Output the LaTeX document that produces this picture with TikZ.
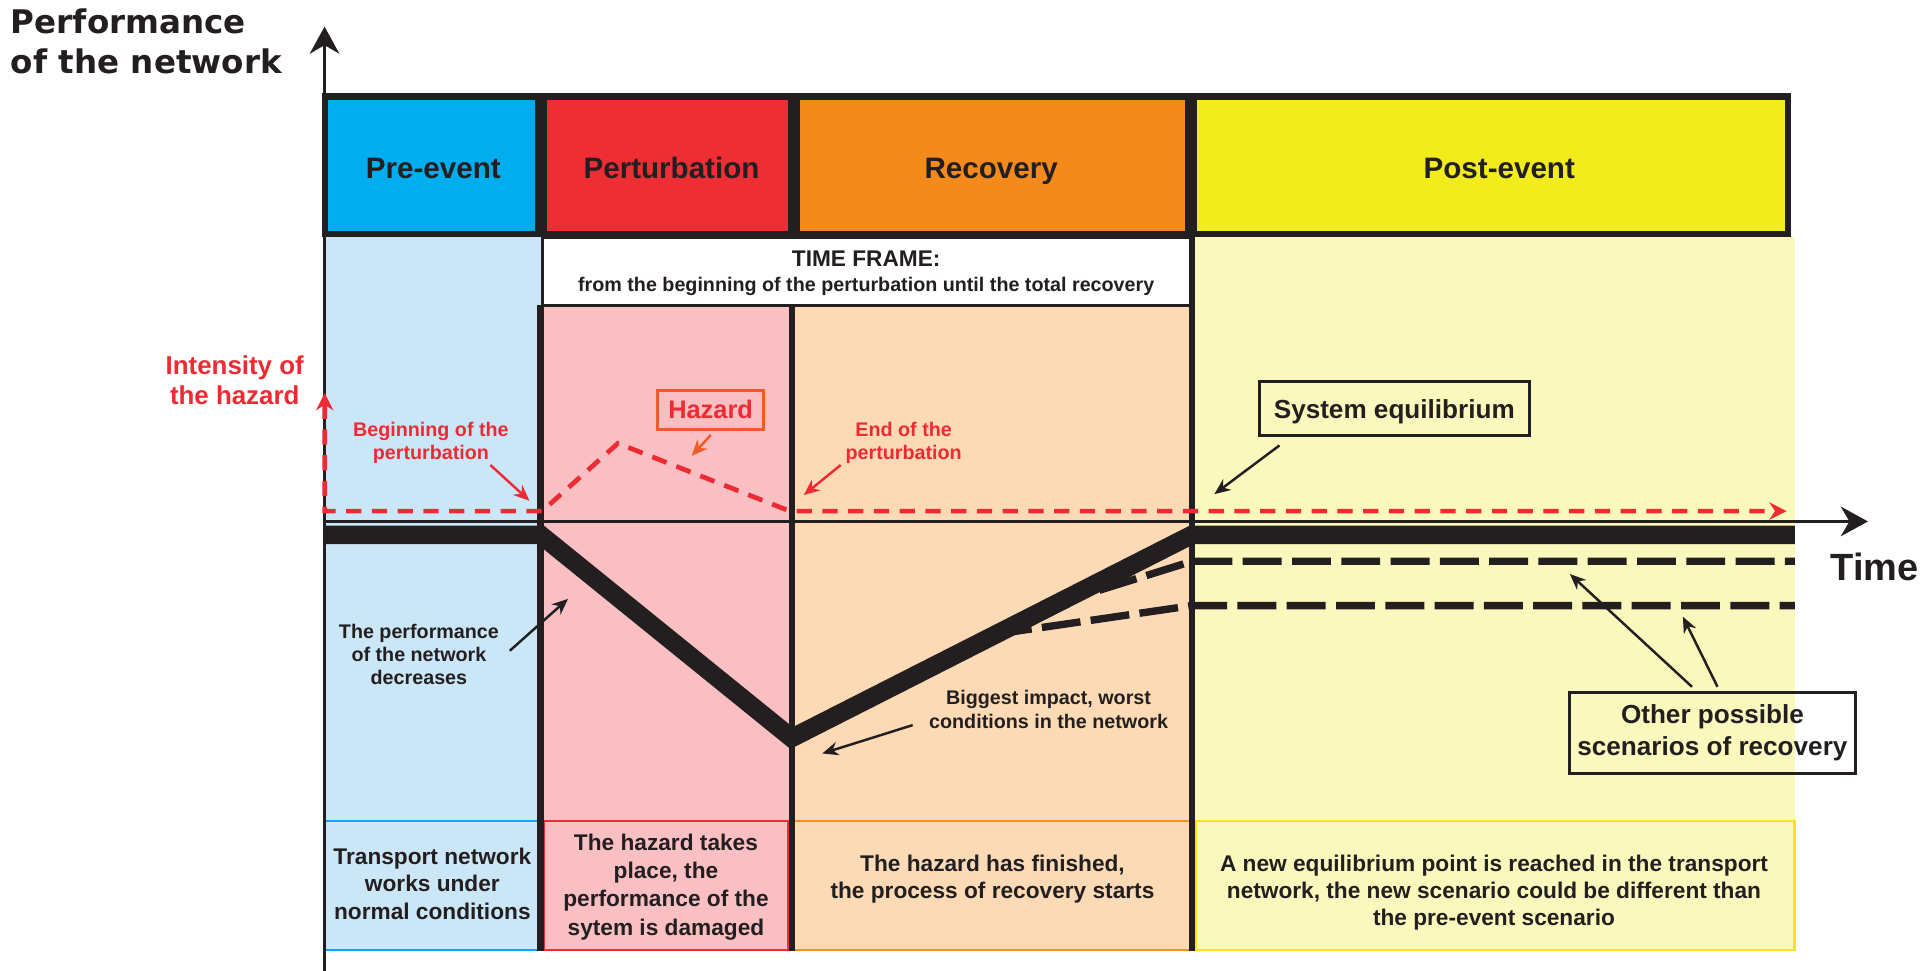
\documentclass[tikz,border=0pt]{standalone}
\usepackage{fontspec}
\setmainfont{Liberation Sans}
\newfontfamily\widefont{DejaVu Sans}
\usetikzlibrary{arrows.meta}

\definecolor{ink}{HTML}{231F20}
\definecolor{hdrblue}{HTML}{00AEEF}
\definecolor{hdrred}{HTML}{EE2E34}
\definecolor{hdrorange}{HTML}{F58A1C}
\definecolor{hdryellow}{HTML}{F2EC1C}
\definecolor{bgblue}{HTML}{CBE6F7}
\definecolor{bgpink}{HTML}{F9BFC2}
\definecolor{bgpeach}{HTML}{FCDAB5}
\definecolor{bgyellow}{HTML}{FBF8BE}
\definecolor{hazred}{HTML}{ED2B33}
\definecolor{hazorange}{HTML}{F15A29}
\definecolor{edgeorange}{HTML}{F7901E}
\definecolor{edgeyellow}{HTML}{FDE11A}

\begin{document}
\begin{tikzpicture}[x=0.5pt,y=-0.5pt,
  hdrtext/.style={font=\bfseries\fontsize{12}{14}\selectfont, text=ink, anchor=base, inner sep=0pt},
  notetext/.style={font=\bfseries\fontsize{9.2}{11}\selectfont, text=ink, align=center, inner sep=0pt},
  smalltext/.style={font=\bfseries\fontsize{8}{9.5}\selectfont, text=ink, align=center, inner sep=0pt},
  redsmall/.style={smalltext, text=hazred},
  callout/.style={draw=ink, line width=1.2pt, font=\bfseries\fontsize{10.6}{12.7}\selectfont,
                  text=ink, align=center, inner sep=0pt},
  blkarrow/.style={draw=ink, line width=1pt, -{Stealth[length=6.5pt,width=5.5pt]}},
  redarrow/.style={draw=hazred, line width=1pt, -{Stealth[length=6.5pt,width=5.5pt]}},
  axisarrow/.style={draw=ink, line width=1.15pt, -{Stealth[length=11pt,width=12pt,inset=3.5pt]}},
  perfline/.style={draw=ink, line width=7.5pt, line join=miter},
  scenario/.style={draw=ink, line width=3pt, dash pattern=on 15.8pt off 4.2pt},
  hazline/.style={draw=hazred, line width=1.9pt, dash pattern=on 6.2pt off 4.25pt,
                  {Stealth[length=7pt,width=7pt]}-{Stealth[length=7pt,width=7pt]}},
  colline/.style={draw=ink, line width=2.5pt},
  hdrbox/.style={draw=ink, line width=2.5pt},
  edge/.style={line width=1.1pt}
]
\useasboundingbox (0,0) rectangle (1568,788);
\fill[white] (0,0) rectangle (1568,788);

% column backgrounds
\fill[bgblue]   (263.4,192.6) rectangle (438.7,771.6);
\fill[bgpink]   (438.7,247.7) rectangle (642.9,771.6);
\fill[bgpeach]  (642.9,247.7) rectangle (967.5,771.6);
\fill[bgyellow] (967.5,192.6) rectangle (1456.7,771.6);

% description boxes along the bottom
\draw[edge, hdrblue]    (263.4,666.3) -- (438.7,666.3) (263.4,771) -- (438.7,771);
\draw[edge, hdrred]     (441.5,666.3) rectangle (639.5,771);
\draw[edge, edgeorange] (642.9,666.3) -- (967.5,666.3) (642.9,771) -- (967.5,771);
\draw[edge, edgeyellow] (970.2,666.3) rectangle (1456.1,771);

% time frame box
\draw[ink, line width=1.3pt, fill=white] (440.3,192.6) rectangle (966.2,247.7);

% column separators
\draw[colline] (438.7,247.7) -- (438.7,771.6);
\draw[colline] (642.9,247.7) -- (642.9,771.6);
\draw[colline] (967.5,192.6) -- (967.5,771.6);

% phase headers
\draw[hdrbox, fill=hdrblue]   (263.5,78.3) rectangle (436.5,190.1);
\draw[hdrbox, fill=hdrred]    (441.5,78.3) rectangle (642,190.1);
\draw[hdrbox, fill=hdrorange] (647,78.3)   rectangle (963.9,190.1);
\draw[hdrbox, fill=hdryellow] (968.9,78.3) rectangle (1451,190.1);
\node[hdrtext] (hpre)  at (351.7,144.7)  {Pre-event};
\node[hdrtext] (hpert) at (545,144.7)    {Perturbation};
\node[hdrtext] (hrec)  at (804.4,144.7)  {Recovery};
\node[hdrtext] (hpost) at (1216.8,144.7) {Post-event};

\node[anchor=base, inner sep=0pt, text=ink, font=\bfseries\fontsize{9.2}{11}\selectfont]
  (tf) at (703,216.5) {TIME FRAME:};
\node[anchor=base, inner sep=0pt, text=ink, font=\bfseries\fontsize{8}{9.5}\selectfont]
  (tfsub) at (703,236.7) {from the beginning of the perturbation until the total recovery};

% axes
\coordinate (origin) at (263.4,788);
\coordinate (ytip)   at (263.4,21.6);
\coordinate (tstart) at (263.4,423.2);
\coordinate (ttip)   at (1516,423.2);
\draw[axisarrow] (origin) -- (ytip);
\draw[axisarrow] (tstart) -- (ttip);

% alternative recovery scenarios
\coordinate (s1a) at (854,491);
\coordinate (s1b) at (967.5,455.5);
\coordinate (s1c) at (1456.7,455.5);
\coordinate (s2a) at (806,515);
\coordinate (s2b) at (967.5,491.5);
\coordinate (s2c) at (1456.7,491.5);
\draw[scenario] (s1a) -- (s1b) -- (s1c);
\draw[scenario] (s2a) -- (s2b) -- (s2c);

% performance of the network
\coordinate (p0) at (263.4,434);
\coordinate (p1) at (438.7,434);
\coordinate (p2) at (642.5,599);
\coordinate (p3) at (967.5,434);
\coordinate (p4) at (1456.7,434);
\draw[perfline] (p0) -- (p1) -- (p2) -- (p3) -- (p4);

% intensity of the hazard
\coordinate (h0) at (263.5,319);
\coordinate (h1) at (263.5,414.8);
\coordinate (h2) at (440,414.8);
\coordinate (h3) at (501.5,359.8);
\coordinate (h4) at (641,414.8);
\coordinate (h5) at (1450,414.8);
\draw[hazline] (h0) -- (h1) -- (h2) -- (h3) -- (h4) -- (h5);

% axis titles
\node[anchor=west, align=left, inner sep=0pt, text=ink,
      font=\widefont\bfseries\fontsize{13.2}{16.25}\selectfont]
  (ylabel) at (8.5,33.25) {Performance\\of the network};
\node[anchor=base, inner sep=0pt, text=ink, font=\bfseries\fontsize{15.4}{18}\selectfont]
  (tlabel) at (1521.6,471.3) {Time};
\node[align=center, inner sep=0pt, text=hazred, font=\bfseries\fontsize{10.5}{12.15}\selectfont]
  (intensity) at (190.5,308.9) {Intensity of\\the hazard};

% hazard annotations
\node[redsmall] (begin) at (349.7,359.25) {Beginning of the\\perturbation};
\coordinate (begintail) at (398,377.4);
\coordinate (begintip)  at (429.7,406.4);
\draw[redarrow] (begintail) -- (begintip);

\node[draw=hazorange, line width=1.25pt, inner sep=0pt, text=hazred,
      font=\bfseries\fontsize{10.3}{12}\selectfont,
      minimum width=43.1pt, minimum height=15.55pt, text height=6.9pt, text depth=0.1pt]
  (hazard) at (576.7,332.8) {Hazard};
\coordinate (haztail) at (576.9,353);
\coordinate (haztip)  at (561.3,370);
\draw[redarrow, draw=hazorange] (haztail) -- (haztip);

\node[redsmall] (endpert) at (733.4,359.25) {End of the\\perturbation};
\coordinate (endtail) at (682.3,377.4);
\coordinate (endtip)  at (652.3,401.8);
\draw[redarrow] (endtail) -- (endtip);

% performance annotations
\node[callout, minimum width=109.6pt, minimum height=22.1pt, text height=8pt, text depth=0.1pt]
  (equil) at (1131.6,331.7) {System equilibrium};
\coordinate (eqtail) at (1038.4,361.5);
\coordinate (eqtip)  at (985.6,401);
\draw[blkarrow] (eqtail) -- (eqtip);

\node[smalltext] (decrease) at (340,531.15) {The performance\\of the network\\decreases};
\coordinate (dectail) at (413.8,528.1);
\coordinate (dectip)  at (461,486);
\draw[blkarrow] (dectail) -- (dectip);

\node[smalltext] (impact) at (851,575.65) {Biggest impact, worst\\conditions in the network};
\coordinate (imptail) at (740.7,588.5);
\coordinate (imptip)  at (667.4,611.5);
\draw[blkarrow] (imptail) -- (imptip);

\node[callout, minimum width=115.85pt, minimum height=33pt]
  (other) at (1389.8,594.8) {Other possible\\scenarios of recovery};
\coordinate (otail1) at (1373.2,557.4);
\coordinate (otip1)  at (1274.1,465.9);
\coordinate (otail2) at (1393.9,557.4);
\coordinate (otip2)  at (1365.8,500.5);
\draw[blkarrow] (otail1) -- (otip1);
\draw[blkarrow] (otail2) -- (otip2);

% phase descriptions
\node[notetext] (dpre) at (350.9,717.3) {Transport network\\works under\\normal conditions};
\node[notetext, font=\bfseries\fontsize{9.2}{11.5}\selectfont]
  (dpert) at (540.5,719.75) {The hazard takes\\place, the\\performance of the\\sytem is damaged};
\node[notetext] (drec) at (805.5,713.75) {The hazard has finished,\\the process of recovery starts};
\node[notetext, font=\bfseries\fontsize{9.2}{10.9}\selectfont]
  (dpost) at (1212.5,724.5) {A new equilibrium point is reached in the transport\\network, the new scenario could be different than\\the pre-event scenario};

\end{tikzpicture}
\end{document}
